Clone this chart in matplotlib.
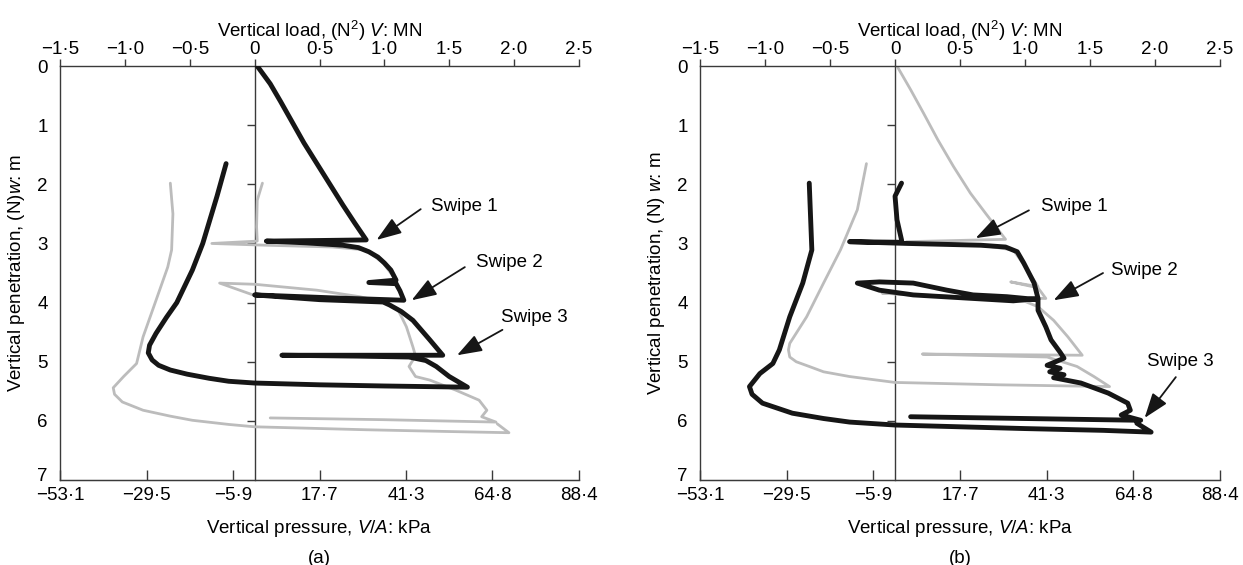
import numpy as np
import matplotlib
matplotlib.use("Agg")
import matplotlib.pyplot as plt
import matplotlib.transforms as mtransforms

plt.rcParams["font.family"] = ["Liberation Sans", "DejaVu Sans"]
plt.rcParams["mathtext.fontset"] = "custom"
plt.rcParams["mathtext.rm"] = "Liberation Sans"
plt.rcParams["mathtext.it"] = "Liberation Sans:italic"

nan = np.nan

# axis ticks
load_ticks = [-1.5, -1.0, -0.5, 0.0, 0.5, 1.0, 1.5, 2.0, 2.5]
load_labels = ["\u22121\u00b75", "\u22121\u00b70", "\u22120\u00b75", "0", "0\u00b75",
               "1\u00b70", "1\u00b75", "2\u00b70", "2\u00b75"]
pressure_labels = ["\u221253\u00b71", "\u221229\u00b75", "\u22125\u00b79", "17\u00b77",
                   "41\u00b73", "64\u00b78", "88\u00b74"]
depth_ticks = [0, 1, 2, 3, 4, 5, 6, 7]
kpa_per_mn = 88.4 / 2.5

# (a) black trace: V (MN) and w (m)
a_black_load = [0.02, 0.12, 0.20, 0.29, 0.38, 0.48, 0.58, 0.68, 0.77, 0.86, 0.50, 0.09,
                0.40, 0.68, 0.80, 0.88, 0.95, 1.00, 1.05, 1.09, 0.88, 1.09, 1.12, 1.15,
                0.60, 0.00, 0.50, 0.99, 1.04, 1.13, 1.22, 1.35, 1.45, 0.80, 0.21, 0.80,
                1.19, 1.32, 1.40, 1.50, 1.64, 1.00, 0.50, 0.00, -0.20, -0.35, -0.52,
                -0.65, -0.74, -0.79, -0.82, -0.81, -0.76, -0.68, -0.60, -0.48, -0.40,
                -0.29, -0.22]
a_black_depth = [0.00, 0.30, 0.60, 0.95, 1.30, 1.65, 2.00, 2.35, 2.65, 2.94, 2.95, 2.96,
                 2.99, 3.03, 3.07, 3.14, 3.23, 3.33, 3.45, 3.62, 3.66, 3.68, 3.80, 3.96,
                 3.92, 3.87, 3.95, 3.99, 4.04, 4.15, 4.30, 4.63, 4.89, 4.89, 4.89, 4.905,
                 4.92, 4.98, 5.08, 5.25, 5.43, 5.41, 5.39, 5.36, 5.33, 5.28, 5.21,
                 5.14, 5.06, 4.97, 4.85, 4.72, 4.52, 4.25, 4.00, 3.45, 3.00,
                 2.20, 1.65]

# (a) grey trace
a_gray_load = [0.06, 0.02, 0.015, 0.02, -0.33, 0.09, 0.60, 0.86, 0.99, 1.09, 1.15, 0.60,
               0.00, -0.27, 0.00, 0.48, 0.81, 0.99, 1.10, 1.17, 1.22, 1.24, 1.19, 1.24,
               1.35, 1.55, 1.73, 1.79, 1.75, 1.86, 1.00, 0.12, nan,
               -0.65, -0.63, -0.64, -0.67, -0.76, -0.86, -0.91, -1.01, -1.09, -1.08,
               -1.02, -0.86, -0.65, -0.48, -0.20, 0.00, 0.86, 1.50, 1.96, 1.87]
a_gray_depth = [1.98, 2.27, 2.72, 2.96, 3.00, 3.03, 3.06, 3.11, 3.33, 3.62, 3.96, 3.93,
                3.88, 3.67, 3.69, 3.79, 3.90, 3.99, 4.10, 4.41, 4.75, 4.90, 5.08, 5.25,
                5.31, 5.48, 5.65, 5.82, 5.93, 6.02, 5.98, 5.95, nan,
                1.98, 2.50, 3.11, 3.40, 3.96, 4.58, 5.03, 5.25, 5.44, 5.55,
                5.68, 5.82, 5.92, 5.99, 6.06, 6.10, 6.15, 6.18, 6.20, 6.05]

# (b) black trace
b_black_load = [0.05, 0.00, 0.015, 0.05, 0.05, -0.35, 0.10, 0.66, 0.85, 0.94, 0.99, 1.07,
                1.10, 0.91, 0.14, -0.12, -0.29, -0.12, 0.14, 0.40, 0.60, 0.86, 1.10,
                1.10, 1.16, 1.20, 1.27, 1.30, 1.17, 1.27, 1.19, 1.30, 1.22, 1.43, 1.64,
                1.79, 1.81, 1.74, 1.89, 1.00, 0.12, nan,
                -0.66, -0.64, -0.71, -0.81, -0.89, -0.94, -1.04, -1.12, -1.10, -1.02,
                -0.79, -0.55, -0.35, 0.00, 1.00, 1.60, 1.97, 1.86]
b_black_depth = [1.98, 2.20, 2.60, 2.94, 2.98, 2.97, 3.00, 3.03, 3.06, 3.14, 3.33, 3.67,
                 3.93, 3.97, 3.87, 3.79, 3.67, 3.65, 3.67, 3.79, 3.87, 3.90, 3.95,
                 4.13, 4.41, 4.63, 4.84, 4.94, 5.06, 5.11, 5.17, 5.22, 5.27, 5.36, 5.53,
                 5.70, 5.82, 5.90, 5.99, 5.96, 5.93, nan,
                 1.98, 3.11, 3.67, 4.24, 4.80, 5.03, 5.20, 5.42, 5.55, 5.70,
                 5.87, 5.96, 6.02, 6.07, 6.13, 6.16, 6.19, 6.04]

# (b) grey trace
b_gray_load = [0.015, 0.12, 0.22, 0.33, 0.45, 0.58, 0.70, 0.85, 0.09, 0.66, 0.91, 1.02,
               1.10, 0.89, 1.10, 1.16, 0.50, -0.10, 0.50, 1.00, 1.10, 1.22, 1.33, 1.44,
               0.21, 1.17, 1.40, 1.53, 1.65, 0.80, 0.00, -0.35, -0.55, -0.66, -0.76,
               -0.81, -0.82, -0.81, -0.68, -0.55, -0.42, -0.29, -0.22]
b_gray_depth = [0.00, 0.40, 0.80, 1.25, 1.70, 2.15, 2.50, 2.93, 2.97, 3.03, 3.11, 3.45,
                3.73, 3.65, 3.75, 3.93, 3.90, 3.84, 3.92, 3.98, 4.07, 4.30, 4.58, 4.89,
                4.87, 4.92, 5.08, 5.25, 5.42, 5.39, 5.35, 5.25, 5.17, 5.08, 5.00,
                4.92, 4.80, 4.69, 4.24, 3.67, 3.11, 2.43, 1.65]

# swipe labels: text anchor, arrow tail, arrow tip (V, w)
a_swipes = [("Swipe 1", (1.36, 2.38), (1.28, 2.42), (0.94, 2.94)),
            ("Swipe 2", (1.71, 3.33), (1.62, 3.40), (1.21, 3.96)),
            ("Swipe 3", (1.90, 4.26), (1.91, 4.46), (1.56, 4.89))]
b_swipes = [("Swipe 1", (1.12, 2.38), (1.03, 2.44), (0.62, 2.91)),
            ("Swipe 2", (1.66, 3.45), (1.60, 3.50), (1.22, 3.96)),
            ("Swipe 3", (1.94, 5.00), (2.16, 5.26), (1.92, 5.95))]

black = "#161616"
grey = "#bcbcbc"
frame = "#3a3a3a"


def draw_panel(ax, black_v, black_w, grey_v, grey_w, swipes, ylabel, letter):
    ax.plot(grey_v, grey_w, color=grey, lw=2.0, solid_joinstyle="round",
            solid_capstyle="round", zorder=2)
    ax.plot(black_v, black_w, color=black, lw=3.5, solid_joinstyle="round",
            solid_capstyle="round", zorder=3)

    ax.set_xlim(-1.5, 2.5)
    ax.set_ylim(7, 0)
    for s in ["top", "bottom", "left"]:
        ax.spines[s].set_color(frame)
        ax.spines[s].set_linewidth(1.0)
    ax.spines["right"].set_visible(False)

    # load axis along the top
    ax.xaxis.tick_top()
    ax.xaxis.set_label_position("top")
    ax.set_xticks(load_ticks, labels=load_labels)
    ax.tick_params(axis="x", direction="out", length=5, width=1.0, color=frame,
                   pad=1, labelsize=13.5)
    ax.set_xlabel("Vertical load, (N$^2$) $V$: MN", fontsize=13.5, labelpad=3)

    # depth labels on the left, tick marks on the zero-load line
    ax.set_yticks(depth_ticks)
    ax.tick_params(axis="y", length=0, pad=9, labelsize=13.5)
    ax.set_ylabel(ylabel, fontsize=13.5, labelpad=7)
    # lift the bottom "7" a touch so it clears the pressure labels
    last = ax.get_yticklabels()[-1]
    last.set_transform(last.get_transform() +
                       mtransforms.ScaledTranslation(0, 4 / 72, ax.figure.dpi_scale_trans))
    zero = ax.secondary_yaxis(1.5 / 4.0)
    zero.set_yticks(depth_ticks[1:-1])
    zero.tick_params(direction="out", length=6, width=1.0, color=frame,
                     labelleft=False, labelright=False)
    for s in zero.spines.values():
        s.set_color(frame)
        s.set_linewidth(1.0)

    # pressure axis along the bottom
    sec = ax.secondary_xaxis("bottom", functions=(lambda v: v * kpa_per_mn,
                                                  lambda p: p / kpa_per_mn))
    sec.set_xticks(np.linspace(-1.5, 2.5, 7) * kpa_per_mn, labels=pressure_labels)
    sec.tick_params(direction="in", length=7, width=1.0, color=frame, pad=5,
                    labelsize=13.5)
    sec.spines["bottom"].set_color(frame)
    sec.set_xlabel("Vertical pressure, $V/A$: kPa", fontsize=13.5, labelpad=10)

    for label, txt, tail, tip in swipes:
        ax.text(txt[0], txt[1], label, fontsize=13.5, ha="left", va="center")
        ax.annotate("", xy=tip, xytext=tail,
                    arrowprops=dict(arrowstyle="-|>,head_length=0.9,head_width=0.32",
                                    mutation_scale=17, lw=1.3, color=black,
                                    shrinkA=0, shrinkB=0))

    pos = ax.get_position()
    ax.figure.text(pos.x0 + pos.width / 2, 0.012, letter, ha="center", va="center",
                   fontsize=13.5)


fig = plt.figure(figsize=(12.43, 5.65), dpi=100)
ax_a = fig.add_axes([0.0483, 0.1504, 0.4175, 0.7327])
ax_b = fig.add_axes([0.5632, 0.1504, 0.4183, 0.7327])

draw_panel(ax_a, a_black_load, a_black_depth, a_gray_load, a_gray_depth, a_swipes,
           "Vertical penetration, (N)$w$: m", "(a)")
draw_panel(ax_b, b_black_load, b_black_depth, b_gray_load, b_gray_depth, b_swipes,
           "Vertical penetration, (N) $w$: m", "(b)")

fig.savefig("out.png", dpi=100)
